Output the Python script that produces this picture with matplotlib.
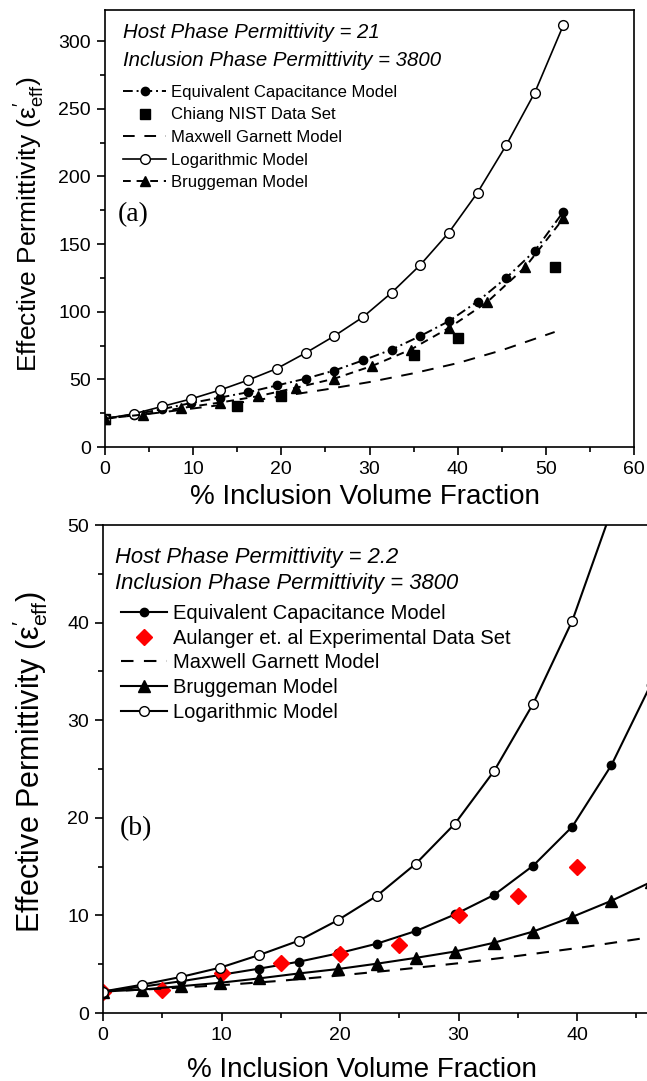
import matplotlib
matplotlib.use('Agg')
import matplotlib.pyplot as plt
from matplotlib.ticker import MultipleLocator

plt.rcParams['font.family'] = ['Liberation Sans', 'DejaVu Sans']
plt.rcParams['mathtext.fontset'] = 'custom'
plt.rcParams['mathtext.rm'] = 'Liberation Sans'
plt.rcParams['mathtext.it'] = 'Liberation Sans:italic'

# ---- panel (a): host 21, inclusion 3800 ----
x_log_a = [0, 3.25, 6.5, 9.75, 13, 16.25, 19.5, 22.75, 26, 29.25, 32.5, 35.75, 39, 42.25, 45.5, 48.75, 52]
log_a = [21, 24.5, 30, 35.5, 42, 49.5, 58, 69.5, 82, 96, 114, 134.5, 158.5, 188, 223, 262, 312]
ecm_a = [21, 24, 28, 32.5, 36.5, 40.5, 45.5, 50.5, 56.5, 64, 72, 82, 93, 107.5, 125, 145, 174]
x_brug_a = [0, 4.33, 8.67, 13, 17.33, 21.67, 26, 30.33, 34.67, 39, 43.33, 47.67, 52]
brug_a = [21, 24, 28.8, 32.8, 37.5, 43.8, 50.5, 60, 72, 88, 107, 133, 169]
x_mg_a = [0, 5, 10, 15, 20, 25, 30, 35, 40, 45, 51]
mg_a = [21, 24.5, 28.5, 32.5, 37.5, 42.5, 48, 54.5, 62, 71.5, 85]
x_chiang = [0, 15, 20, 35, 40, 51]
chiang = [21, 30.5, 38, 68, 80.5, 133]

# ---- panel (b): host 2.2, inclusion 3800 ----
x_b = [0, 3.3, 6.6, 9.9, 13.2, 16.5, 19.8, 23.1, 26.4, 29.7, 33, 36.3, 39.6, 42.9, 46.2]
log_b = [2.2, 2.9, 3.7, 4.65, 5.95, 7.4, 9.5, 12.0, 15.3, 19.4, 24.8, 31.7, 40.2, 51.5]
ecm_b = [2.2, 2.7, 3.25, 3.9, 4.55, 5.25, 6.1, 7.1, 8.4, 10.1, 12.1, 15.1, 19.1, 25.4, 33.6]
brug_b = [2.2, 2.4, 2.75, 3.1, 3.55, 4.05, 4.5, 5.05, 5.65, 6.3, 7.2, 8.35, 9.85, 11.5, 13.4]
x_mg_b = [0, 5, 10, 15, 20, 25, 30, 35, 40, 45, 48]
mg_b = [2.2, 2.5, 2.85, 3.3, 3.85, 4.45, 5.1, 5.85, 6.65, 7.55, 8.1]
x_aul = [0, 5, 10, 15, 20, 25, 30, 35, 40]
aul = [2.2, 2.4, 4.1, 5.1, 6.0, 7.0, 10.0, 12.0, 15.0]

W, H = 647, 1081
fig = plt.figure(figsize=(W / 100, H / 100), dpi=100)
ax1 = fig.add_axes([105 / W, 1 - 447 / H, (634 - 105) / W, (447 - 10) / H])
ax2 = fig.add_axes([103 / W, 1 - 1013 / H, (647 - 103) / W, (1013 - 525) / H])

ylab = r"Effective Permittivity ($\mathregular{\varepsilon^{\prime}_{eff}}$)"

# panel (a)
ax1.plot(x_log_a[:len(ecm_a)], ecm_a, color='k', lw=1.4, ls=(0, (5, 2, 1, 2)),
         marker='o', ms=6, label='Equivalent Capacitance Model')
ax1.plot(x_chiang, chiang, ls='none', marker='s', ms=6.5, color='k', label='Chiang NIST Data Set')
ax1.plot(x_mg_a, mg_a, color='k', lw=1.4, ls=(0, (6, 5)), label='Maxwell Garnett Model')
ax1.plot(x_log_a, log_a, color='k', lw=1.2, marker='o', ms=7, mfc='white', mec='k',
         label='Logarithmic Model')
ax1.plot(x_brug_a, brug_a, color='k', lw=1.4, ls=(0, (4, 3)), marker='^', ms=7,
         label='Bruggeman Model')
ax1.set_xlim(0, 60)
ax1.set_ylim(0, 323)
ax1.xaxis.set_major_locator(MultipleLocator(10))
ax1.xaxis.set_minor_locator(MultipleLocator(5))
ax1.yaxis.set_major_locator(MultipleLocator(50))
ax1.yaxis.set_minor_locator(MultipleLocator(25))
ax1.set_xlabel('% Inclusion Volume Fraction', fontsize=20)
ax1.set_ylabel(ylab, fontsize=19)
ax1.yaxis.set_label_coords(-0.11, 0.51)
ax1.xaxis.set_label_coords(0.492, -0.085)
ax1.legend(loc='upper left', bbox_to_anchor=(123 / W, 1 - 85 / H), bbox_transform=fig.transFigure,
           frameon=False, fontsize=12, handlelength=2.6, handletextpad=0.3, labelspacing=0.45,
           borderpad=0, borderaxespad=0, numpoints=1)
fig.text(123 / W, 1 - 33 / H, 'Host Phase Permittivity = 21', style='italic', fontsize=14.7, va='center')
fig.text(123 / W, 1 - 60 / H, 'Inclusion Phase Permittivity = 3800', style='italic', fontsize=14.7, va='center')
fig.text(118 / W, 1 - 215 / H, '(a)', family='Liberation Serif', fontsize=20, va='center')

# panel (b)
ax2.plot(x_b, ecm_b, color='k', lw=1.5, marker='o', ms=6, label='Equivalent Capacitance Model')
ax2.plot(x_aul, aul, ls='none', marker='D', ms=8, color='#ff0000', label='Aulanger et. al Experimental Data Set')
ax2.plot(x_mg_b, mg_b, color='k', lw=1.5, ls=(0, (6, 5)), label='Maxwell Garnett Model')
ax2.plot(x_b, brug_b, color='k', lw=1.5, marker='^', ms=8.5, label='Bruggeman Model')
ax2.plot(x_b[:len(log_b)], log_b, color='k', lw=1.5, marker='o', ms=7, mfc='white', mec='k',
         label='Logarithmic Model')
ax2.set_xlim(0, 45.9)
ax2.set_ylim(0, 50)
ax2.xaxis.set_major_locator(MultipleLocator(10))
ax2.xaxis.set_minor_locator(MultipleLocator(5))
ax2.yaxis.set_major_locator(MultipleLocator(10))
ax2.yaxis.set_minor_locator(MultipleLocator(5))
ax2.spines['right'].set_visible(False)
ax2.set_xlabel('% Inclusion Volume Fraction', fontsize=20)
ax2.set_ylabel(ylab, fontsize=22)
ax2.yaxis.set_label_coords(-0.097, 0.515)
ax2.xaxis.set_label_coords(0.476, -0.09)
ax2.legend(loc='upper left', bbox_to_anchor=(121 / W, 1 - 604 / H), bbox_transform=fig.transFigure,
           frameon=False, fontsize=14.5, handlelength=2.3, handletextpad=0.3, labelspacing=0.28,
           borderpad=0, borderaxespad=0, numpoints=1)
fig.text(115 / W, 1 - 557 / H, 'Host Phase Permittivity = 2.2', style='italic', fontsize=15.8, va='center')
fig.text(115 / W, 1 - 583 / H, 'Inclusion Phase Permittivity = 3800', style='italic', fontsize=15.8, va='center')
fig.text(120 / W, 1 - 829 / H, '(b)', family='Liberation Serif', fontsize=20, va='center')

for ax in (ax1, ax2):
    for s in ax.spines.values():
        s.set_linewidth(1.2)
    ax.tick_params(which='major', direction='out', length=6, width=1.2, labelsize=14, pad=4)
    ax.tick_params(which='minor', direction='out', length=3.5, width=1.2)

fig.savefig('out.png', dpi=100)
